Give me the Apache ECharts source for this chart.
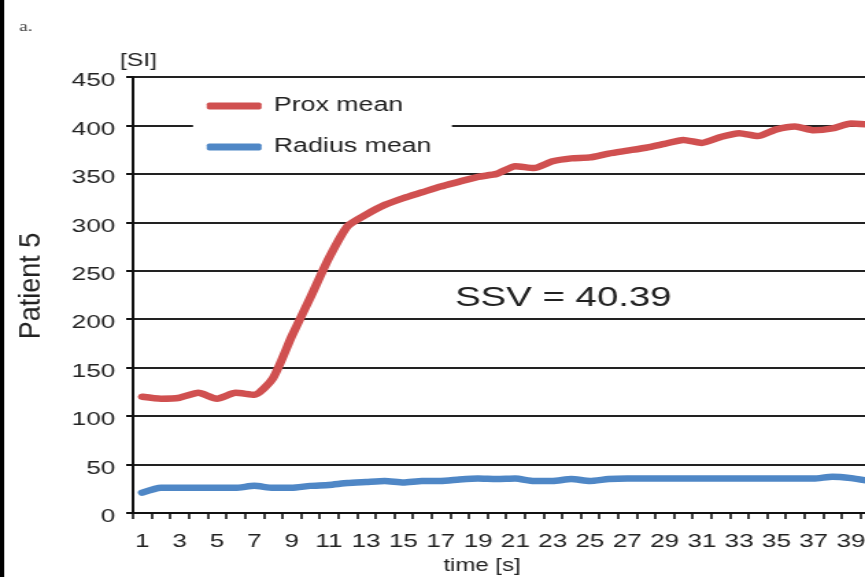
<!DOCTYPE html>
<html>
<head>
<meta charset="utf-8">
<script src="https://cdn.jsdelivr.net/npm/echarts@6/dist/echarts.min.js"></script>
<style>
html,body{margin:0;padding:0;background:#fff;overflow:hidden;width:865px;height:577px}
#c{width:631px;height:577px;transform:scaleX(1.37084);transform-origin:0 0}
</style>
</head>
<body>
<div id="c"></div>
<script>
const categories = [];
for (let i = 1; i <= 40; i++) categories.push(String(i));
const proxMean = [120,118,119,124,118,124,122,139,182,222,263,296,308,318,325,331,337,342,347,350,358,356,363,366,367,371,374,377,381,385,382,388,392,389,396,399,395,397,402,401];
const radiusMean = [21,26,26,26,26,26,28,26,26,28,29,31,32,33,31.5,33,33,34.5,35.5,35,35.5,33,33,35,33,35,35.5,35.5,35.5,35.5,35.5,35.5,35.5,35.5,35.5,35.5,35.5,37.5,36,33];
const yTicks = {min: 0, max: 450, interval: 50};

// the reference picture is stretched horizontally; the chart is drawn narrower and scaled by CSS
const S = 865 / 631;
const chart = echarts.init(document.getElementById('c'));
const font = '"Liberation Sans", Arial, sans-serif';
chart.setOption({
  animation: false,
  backgroundColor: '#fff',
  grid: {left: 133 / S, top: 77, width: 746 / S, height: 436, containLabel: false, outerBoundsMode: 'none'},
  legend: {
    orient: 'vertical', left: 193 / S, top: 88,
    backgroundColor: '#fff',
    padding: [8, 15, 8, 10],
    itemGap: 21, itemWidth: 40, itemHeight: 7,
    icon: 'roundRect',
    textStyle: {fontFamily: font, fontSize: 19.5, color: '#222', padding: [0, 0, 0, 4]},
    data: ['Prox mean', 'Radius mean']
  },
  xAxis: {
    type: 'category', data: categories, boundaryGap: true,
    axisLine: {lineStyle: {color: '#111', width: 2}},
    axisTick: {show: true, interval: 0, length: 6, lineStyle: {color: '#111', width: 1.6}},
    axisLabel: {interval: 1, fontFamily: font, fontSize: 19, color: '#222', margin: 19},
    splitLine: {show: false}
  },
  yAxis: {
    type: 'value', min: yTicks.min, max: yTicks.max, interval: yTicks.interval,
    axisLine: {show: true, lineStyle: {color: '#111', width: 2}},
    axisTick: {show: true, length: 5, lineStyle: {color: '#111', width: 2}},
    axisLabel: {fontFamily: font, fontSize: 19, color: '#222', margin: 13, verticalAlign: 'top', lineHeight: 8},
    splitLine: {show: true, lineStyle: {color: '#222', width: 2}}
  },
  series: [
    {name: 'Prox mean', type: 'line', data: proxMean, symbol: 'none', smooth: 0.2,
     lineStyle: {color: '#d05050', width: 6.5, cap: 'round', join: 'round'}, itemStyle: {color: '#d05050'}, z: 3},
    {name: 'Radius mean', type: 'line', data: radiusMean, symbol: 'none', smooth: 0.2,
     lineStyle: {color: '#4f87c6', width: 6.5, cap: 'round', join: 'round'}, itemStyle: {color: '#4f87c6'}, z: 3}
  ],
  graphic: [
    {type: 'rect', left: 0, top: 0, shape: {width: 3, height: 577}, style: {fill: '#000'}},
    {type: 'text', left: 14, top: 20, style: {text: 'a.', font: '14px "Liberation Serif", serif', fill: '#444'}},
    {type: 'text', left: 120 / S, top: 52, style: {text: '[SI]', font: '18px "Liberation Sans", Arial, sans-serif', fill: '#222'}},
    {type: 'text', x: 32 / S, y: 286, rotation: Math.PI / 2, scaleY: 0.82,
     style: {text: 'Patient 5', font: '27px "Liberation Sans", Arial, sans-serif', fill: '#222', align: 'center', verticalAlign: 'middle'}},
    {type: 'text', x: 482 / S, y: 566,
     style: {text: 'time [s]', font: '17.5px "Liberation Sans", Arial, sans-serif', fill: '#222', align: 'center', verticalAlign: 'middle'}},
    {type: 'text', left: 455 / S, top: 284, style: {text: 'SSV = 40.39', font: '28px "Liberation Sans", Arial, sans-serif', fill: '#222'}}
  ]
});
</script>
</body>
</html>
